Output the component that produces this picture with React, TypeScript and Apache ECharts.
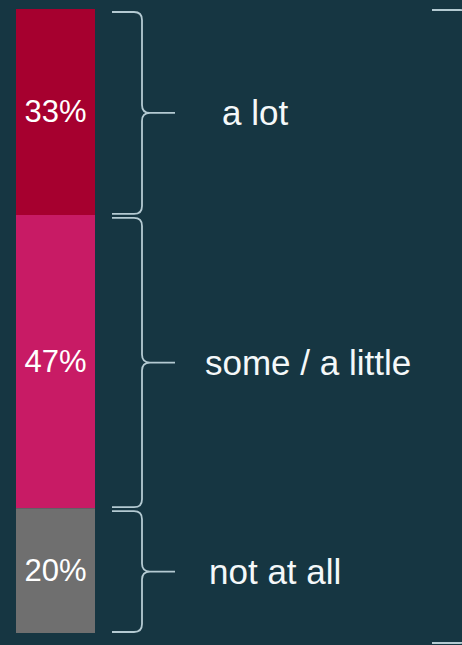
import React, { useEffect, useRef } from 'react';
import * as echarts from 'echarts';

// ---- data ----
const categories = ['a lot', 'some / a little', 'not at all'];
const values = [33, 47, 20];
const axisCategory = [''];

// ---- styles / layout ----
const barColors = ['#A6002F', '#C81B65', '#6F6F6F'];
const bgColor = '#163642';
const braceColor = '#B4CAD2';
const labelLeft = [222, 205, 209];
const GRID_LEFT = 16;
const GRID_TOP = 9;
const GRID_W = 79;
const GRID_H = 624;
const FONT = '"Liberation Sans", Arial, sans-serif';

echarts.graphic.registerShape(
  'brace',
  (echarts.graphic as any).extendShape({
    shape: { x0: 0, xv: 0, xt: 0, y1: 0, y2: 0, r: 8 },
    buildPath(ctx: any, s: any) {
      const ym = (s.y1 + s.y2) / 2;
      ctx.moveTo(s.x0, s.y1);
      ctx.lineTo(s.xv - s.r, s.y1);
      ctx.quadraticCurveTo(s.xv, s.y1, s.xv, s.y1 + s.r);
      ctx.lineTo(s.xv, ym - s.r);
      ctx.quadraticCurveTo(s.xv, ym, s.xv + s.r, ym);
      ctx.lineTo(s.xt, ym);
      ctx.moveTo(s.xv + s.r, ym);
      ctx.quadraticCurveTo(s.xv, ym, s.xv, ym + s.r);
      ctx.lineTo(s.xv, s.y2 - s.r);
      ctx.quadraticCurveTo(s.xv, s.y2, s.xv - s.r, s.y2);
      ctx.lineTo(s.x0, s.y2);
    },
  })
);

export default function App() {
  const ref = useRef<HTMLDivElement>(null);
  useEffect(() => {
    if (!ref.current) return;
    const chart = echarts.init(ref.current, undefined, { renderer: 'svg' });
    chart.setOption({
      animation: false,
      backgroundColor: bgColor,
      grid: { left: GRID_LEFT, top: GRID_TOP, width: GRID_W, height: GRID_H },
      xAxis: {
        type: 'category',
        data: axisCategory,
        show: false,
      },
      yAxis: { type: 'value', min: 0, max: 100, inverse: true, show: false },
      series: values.map((v, i) => ({
        name: categories[i],
        type: 'bar',
        stack: 'total',
        barCategoryGap: 0,
        data: [v],
        itemStyle: { color: barColors[i] },
        label: {
          show: true,
          position: 'inside',
          formatter: '{c}%',
          color: '#FFFFFF',
          fontSize: 31,
          fontFamily: FONT,
        },
      })),
    });

    const barRight = GRID_LEFT + GRID_W;
    const graphics: any[] = [];
    let cum = 0;
    values.forEach((v, i) => {
      const yTop = chart.convertToPixel({ yAxisIndex: 0 }, cum) as number;
      cum += v;
      const yBot = chart.convertToPixel({ yAxisIndex: 0 }, cum) as number;
      const y1 = yTop + 3;
      const y2 = yBot - 1;
      const ym = (y1 + y2) / 2;
      graphics.push({
        type: 'brace',
        shape: { x0: barRight + 17, xv: barRight + 47, xt: barRight + 80, y1, y2, r: 8 },
        style: { stroke: braceColor, lineWidth: 1.8, fill: 'none' },
      });
      graphics.push({
        type: 'text',
        x: labelLeft[i],
        y: ym,
        style: {
          text: categories[i],
          fill: '#F4F8F9',
          fontSize: 35,
          fontFamily: FONT,
          verticalAlign: 'middle',
          align: 'left',
        },
      });
    });
    // large brace continuing beyond the right edge
    graphics.push({
      type: 'brace',
      shape: { x0: 432, xv: 482, xt: 520, y1: 10, y2: 643, r: 22 },
      style: { stroke: braceColor, lineWidth: 1.8, fill: 'none' },
    });
    chart.setOption({ graphic: graphics });

    return () => chart.dispose();
  }, []);
  return (
    <div
      ref={ref}
      style={{ position: 'fixed', left: 0, top: 0, width: 462, height: 645 }}
    />
  );
}
